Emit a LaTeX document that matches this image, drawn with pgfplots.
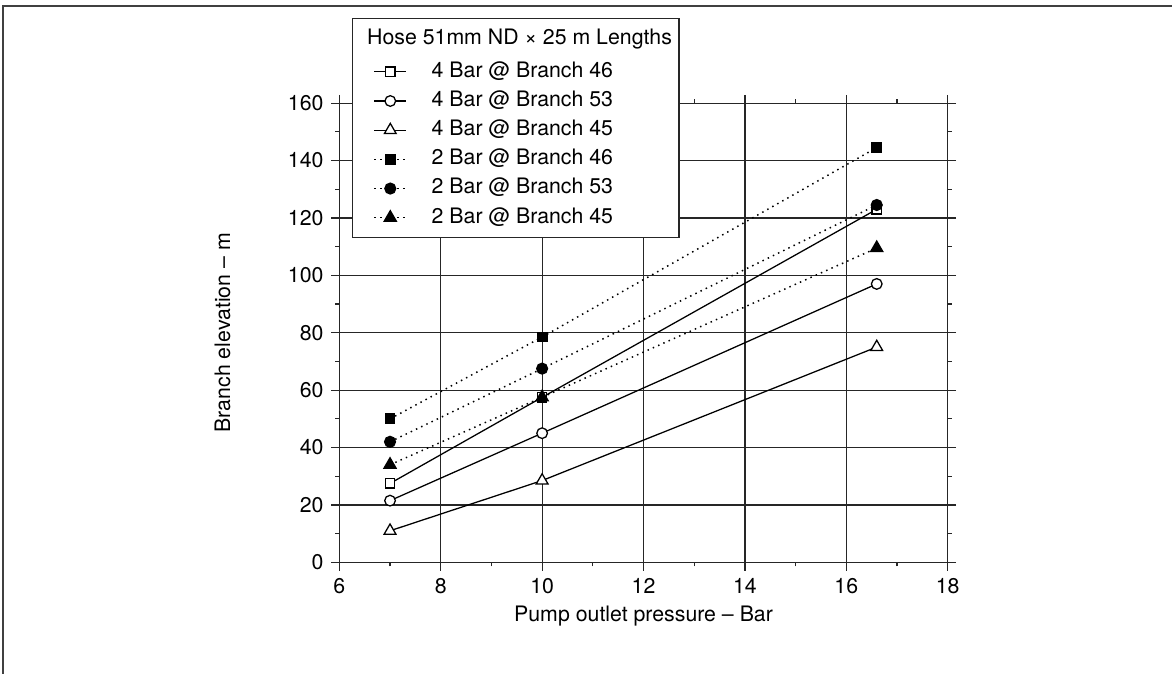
\documentclass[border=0pt]{standalone}
\usepackage{fontspec}
\setmainfont{TeX Gyre Heros}
\usepackage{pgfplots}
\pgfplotsset{compat=1.18}

\begin{document}
\begin{tikzpicture}
\useasboundingbox (0,0) rectangle (550.2pt,316pt);
% outer frame, open at right and bottom
\draw[line width=1pt, black!75] (1.55pt,-5pt) -- (1.55pt,313.2pt) -- (560pt,313.2pt);
\begin{axis}[
    at={(159.3pt,52pt)}, anchor=south west,
    scale only axis, width=285.6pt, height=215.6pt,
    xmin=6, xmax=18, ymin=0, ymax=160,
    xtick={6,8,...,18}, ytick={0,20,...,160},
    minor x tick num=1, minor y tick num=1,
    tick align=outside, major tick length=3.9pt, minor tick length=1.9pt,
    tick style={black!85, line width=0.55pt},
    grid=major, major grid style={black!85, line width=0.55pt},
    axis line style={black!85, line width=0.55pt},
    /pgf/number format/assume math mode=true,
    xlabel={Pump outlet pressure -- Bar},
    ylabel={Branch elevation -- m},
    every axis x label/.style={at={(axis description cs:0.5,-0.118)}, anchor=center},
    every axis y label/.style={at={(axis description cs:-0.192,0.5)}, rotate=90, anchor=center},
    legend cell align=left,
    legend image code/.code={
        \path (0pt,0pt);
        \draw[mark repeat=2, mark phase=2, #1] plot coordinates {(6.5pt,0pt) (14pt,0pt) (21.5pt,0pt)};
    },
    legend style={at={(rel axis cs:0.0209,1.185)}, anchor=north west,
        draw=black!85, line width=0.6pt, inner xsep=3.3pt, inner ysep=4.4pt,
        row sep=3.7pt, column sep=11.6pt,
        nodes={inner sep=0pt, text height=7.5pt, text depth=2.5pt}},
]
\addlegendimage{empty legend}
\addlegendentry[text depth=4.3pt]{\hspace{-30.3pt}Hose 51mm ND × 25 m Lengths}

\addplot[black, line width=0.6pt, mark=square*, mark size=2.2pt, mark options={solid, fill=white}]
    coordinates {(7,27.5) (10,57.5) (16.6,123)};
\addlegendentry{4 Bar @ Branch 46}
\addplot[black, line width=0.6pt, mark=*, mark size=2.5pt, mark options={solid, fill=white}]
    coordinates {(7,21.5) (10,45) (16.6,97)};
\addlegendentry{4 Bar @ Branch 53}
\addplot[black, line width=0.6pt, mark=triangle*, mark size=3.2pt, mark options={solid, fill=white}]
    coordinates {(7,11) (10,28.5) (16.6,75)};
\addlegendentry{4 Bar @ Branch 45}

\addplot[black, line width=0.7pt, dash pattern=on 0.7pt off 2pt, mark=square*, mark size=2.2pt, mark options={solid, fill=black}]
    coordinates {(7,50) (10,78.5) (16.6,144.5)};
\addlegendentry{2 Bar @ Branch 46}
\addplot[black, line width=0.7pt, dash pattern=on 0.7pt off 2pt, mark=*, mark size=2.5pt, mark options={solid, fill=black}]
    coordinates {(7,42) (10,67.5) (16.6,124.5)};
\addlegendentry{2 Bar @ Branch 53}
\addplot[black, line width=0.7pt, dash pattern=on 0.7pt off 2pt, mark=triangle*, mark size=3.2pt, mark options={solid, fill=black}]
    coordinates {(7,34) (10,57.5) (16.6,109.5)};
\addlegendentry{2 Bar @ Branch 45}
\end{axis}
\end{tikzpicture}
\end{document}
